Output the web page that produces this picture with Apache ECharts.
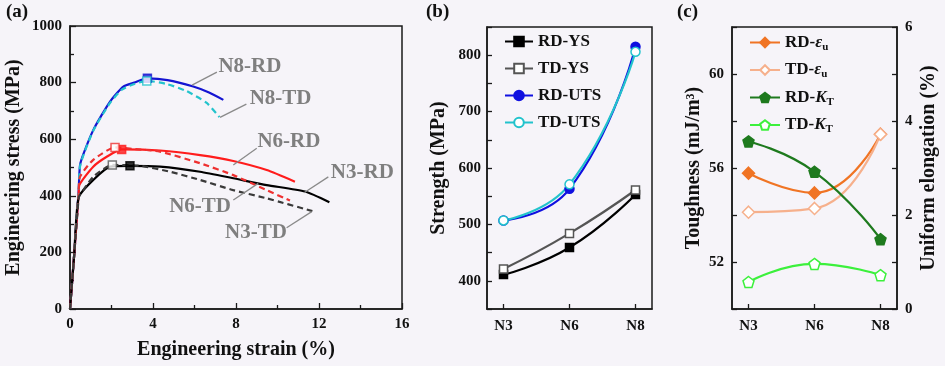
<!DOCTYPE html>
<html><head><meta charset="utf-8">
<script src="https://cdn.jsdelivr.net/npm/echarts@6/dist/echarts.min.js"></script>
<style>html,body{margin:0;padding:0;background:#f6f4f9}#c{width:945px;height:366px}</style>
</head><body><div id="c"></div>
<script>
// ---------- Panel (a): engineering stress-strain curves ----------
const strainN8RD = [0,0.2,0.42,0.5,1.12,1.93,2.57,3.1,3.73,4.7,5.94,6.7,7.39];
const stressN8RD = [0,190,420,515,632,733,786,800,815,809,786,765,739];
const strainN8TD = [0,0.2,0.42,0.5,1.12,1.93,2.5,3.1,3.7,4.66,5.62,6.59,7.2];
const stressN8TD = [0,190,420,510,630,728,775,795,806,795,770,728,678];
const strainN6RD = [0,0.2,0.42,0.45,1.12,1.77,2.49,4.34,6.27,7.87,9.48,10.84];
const stressN6RD = [0,190,410,438,503,538,564,560,544,523,491,450];
const strainN6TD = [0,0.2,0.42,0.48,1.12,2.17,3.0,4.34,6.27,7.87,9.48,10.6];
const stressN6TD = [0,190,410,467,527,571,566,556,515,473,420,383];
const strainN3RD = [0,0.2,0.42,1.12,1.93,2.89,4.34,6.27,7.87,9.48,11.33,12.5];
const stressN3RD = [0,190,395,456,503,506,503,485,462,438,415,377];
const strainN3TD = [0,0.2,0.42,0.48,1.12,2.04,3.37,4.82,6.27,7.87,9.48,11.68];
const stressN3TD = [0,190,395,403,467,509,506,485,456,420,391,346];
// UTS markers
const peakStrain = {'N8-RD':3.73,'N8-TD':3.7,'N6-RD':2.49,'N6-TD':2.17,'N3-RD':2.89,'N3-TD':2.04};
const peakStress = {'N8-RD':815,'N8-TD':806,'N6-RD':564,'N6-TD':571,'N3-RD':506,'N3-TD':509};
// curve labels with arrows (curve point -> text)
const annoNames = ['N8-RD','N8-TD','N6-RD','N3-RD','N6-TD','N3-TD'];
const annoText = [[8.67,855],[10.15,745],[10.55,591],[14.09,482],[6.27,361],[8.96,270]];
const annoFrom = [[5.88,791],[7.23,677],[7.87,509],[11.28,411],[9.07,444],[11.65,344]];
const annoTo   = [[7.08,837],[8.5,724],[9.0,568],[12.45,467],[7.87,385],[10.44,287]];

// ---------- Panel (b): strength ----------
const categories = ['N3','N6','N8'];
const rdYS  = [411,459,553];
const tdYS  = [421,484,561];
const rdUTS = [507,563,815];
const tdUTS = [507,571,806];

// ---------- Panel (c): toughness & uniform elongation ----------
const rdEu = [2.89,2.47,3.72];
const tdEu = [2.06,2.14,3.72];
const rdKT = [57.13,55.84,52.97];
const tdKT = [51.15,51.92,51.44];

const FONT = "'Liberation Serif','Times New Roman',serif";
const AX = '#1a1a1a';
const GRAY = '#7f7f7f';

function pairs(xs, ys){ return xs.map((x,i)=>[x, ys[i]]); }
function catPairs(ys){ return ys.map((y,i)=>[i, y]); }

const lab = {fontFamily:FONT, fontWeight:'bold', fontSize:15, color:'#111'};
const nameStyle = {fontFamily:FONT, fontWeight:'bold', fontSize:20, color:'#111'};

function valAxis(o){
  return Object.assign({
    type:'value',
    axisLine:{show:true, onZero:false, lineStyle:{color:AX, width:1.5}},
    axisTick:{show:true, inside:true, length:5, lineStyle:{color:AX, width:1.3}},
    splitLine:{show:false},
    axisLabel:Object.assign({margin:8, formatter: v => String(v)}, lab),
    nameTextStyle:nameStyle,
    nameLocation:'middle'
  }, o);
}

const PENT = 'path://M0,-10 L9.51,-3.09 L5.88,8.09 L-5.88,8.09 L-9.51,-3.09 Z';

function curve(name, xs, ys, color, dashed, order){
  return {
    name, type:'line', xAxisIndex:0, yAxisIndex:0, data:pairs(xs, ys),
    showSymbol:false, symbol:'none', smooth:0.2,
    lineStyle:{color, width:2.2, type: dashed ? [6,4] : 'solid'},
    z: order, silent:true
  };
}
function peak(name, color, filled){
  return {
    name: name+' UTS', type:'scatter', xAxisIndex:0, yAxisIndex:0,
    data:[[peakStrain[name], peakStress[name]]], symbol:'rect', symbolSize:8,
    itemStyle:{color: filled ? color : '#ffffff', borderColor:color, borderWidth:1.5},
    z:10, silent:true
  };
}

function catLine(name, ys, color, symbol, filled, yIdx, xIdx, size){
  return {
    name, type:'line', xAxisIndex:xIdx, yAxisIndex:yIdx, data:catPairs(ys),
    smooth:0.5, symbol, symbolSize:size, showSymbol:true,
    lineStyle:{color, width:2.2},
    itemStyle:{color: filled ? color : '#ffffff', borderColor:color, borderWidth:1.5},
    z: 5
  };
}

const series = [
  curve('N8-RD', strainN8RD, stressN8RD, '#1414d2', false, 3),
  curve('N8-TD', strainN8TD, stressN8TD, '#22c3cc', true, 4),
  curve('N6-RD', strainN6RD, stressN6RD, '#ff1c1c', false, 3),
  curve('N6-TD', strainN6TD, stressN6TD, '#ee3030', true, 4),
  curve('N3-RD', strainN3RD, stressN3RD, '#000000', false, 3),
  curve('N3-TD', strainN3TD, stressN3TD, '#3a3a3a', true, 4),
  peak('N8-RD','#1414d2',true), peak('N8-TD','#22c3cc',false),
  peak('N6-RD','#ff1c1c',true), peak('N6-TD','#ee3030',false),
  peak('N3-RD','#000000',true), peak('N3-TD','#555555',false),
  {
    name:'annotations', type:'line', xAxisIndex:0, yAxisIndex:0, data:[], silent:true,
    markLine:{
      silent:true, symbol:['none','arrow'], symbolSize:[0,8],
      lineStyle:{color:'#8a8a8a', width:1.3, type:'solid'}, label:{show:false},
      data: annoFrom.map((f,i)=>[{coord:f},{coord:annoTo[i]}])
    },
    markPoint:{
      silent:true, symbol:'circle', symbolSize:0,
      label:{show:true, position:'inside', fontFamily:FONT, fontWeight:'bold', fontSize:21, color:GRAY,
             formatter: p => p.name},
      data: annoNames.map((n,i)=>({name:n, coord:annoText[i]}))
    }
  },
  // (b)
  catLine('RD-YS', rdYS, '#000000', 'rect', true, 1, 1, 8),
  catLine('TD-YS', tdYS, '#555555', 'rect', false, 1, 1, 8),
  catLine('RD-UTS', rdUTS, '#1010e0', 'circle', true, 1, 1, 9),
  catLine('TD-UTS', tdUTS, '#22c3cc', 'circle', false, 1, 1, 9),
  // (c)
  catLine('RD-εu', rdEu, '#f07424', 'diamond', true, 3, 2, 12),
  catLine('TD-εu', tdEu, '#f6b08c', 'diamond', false, 3, 2, 12),
  catLine('RD-KT', rdKT, '#1e7a1e', PENT, true, 2, 2, 11),
  catLine('TD-KT', tdKT, '#3cf03c', PENT, false, 2, 2, 11)
];

const catX = (gi) => valAxis({
  gridIndex:gi, min:-0.25, max:2.25, interval:0.25,
  axisTick:{show:true, inside:true, length:5, lineStyle:{color:AX, width:1.3}, customValues:[0,1,2]},
  axisLabel:Object.assign({margin:10, customValues:[0,1,2],
    formatter: v => (Math.abs(v-Math.round(v))<1e-6 && categories[Math.round(v)]) ? categories[Math.round(v)] : ''}, lab)
});

const richSub = {
  n:{fontFamily:FONT, fontWeight:'bold', fontSize:17, color:'#111'},
  e:{fontFamily:FONT, fontWeight:'bold', fontStyle:'italic', fontSize:17, color:'#111'},
  s:{fontFamily:FONT, fontWeight:'bold', fontSize:11, color:'#111', padding:[9,0,0,0]}
};
function legendFmt(name){
  const m = name.match(/^(RD-|TD-)(ε|K)(u|T)$/);
  if(!m) return name;
  return '{n|'+m[1]+'}{e|'+m[2]+'}{s|'+m[3]+'}';
}

const option = {
  backgroundColor:'#f6f4f9',
  animation:false,
  textStyle:{fontFamily:FONT},
  grid:[
    {left:70, top:26, width:332, height:283, show:true, borderColor:AX, borderWidth:1.5, backgroundColor:'transparent'},
    {left:487, top:27, width:165, height:282, show:true, borderColor:AX, borderWidth:1.5, backgroundColor:'transparent'},
    {left:732, top:27, width:165, height:282, show:true, borderColor:AX, borderWidth:1.5, backgroundColor:'transparent'}
  ],
  xAxis:[
    valAxis({gridIndex:0, min:0, max:16, interval:4, name:'Engineering strain (%)', nameGap:31,
      axisTick:{show:true, inside:true, length:6, lineStyle:{color:AX, width:1.3}},
      minorTick:{show:true, splitNumber:2, length:4, lineStyle:{color:AX, width:1.3}}}),
    catX(1),
    catX(2)
  ],
  yAxis:[
    valAxis({gridIndex:0, min:0, max:1000, interval:200, name:'Engineering stress (MPa)', nameGap:46, nameRotate:90,
      axisTick:{show:true, inside:true, length:6, lineStyle:{color:AX, width:1.3}},
      minorTick:{show:true, splitNumber:2, length:4, lineStyle:{color:AX, width:1.3}}}),
    valAxis({gridIndex:1, min:350, max:850, interval:50, name:'Strength (MPa)', nameGap:38, nameRotate:90,
      axisLabel:Object.assign({margin:6, formatter: v => v%100===0 ? String(v) : ''}, lab)}),
    valAxis({gridIndex:2, min:50, max:62, interval:2, name:'Toughness (mJ/m³)', nameGap:28, nameRotate:90,
      axisLabel:Object.assign({margin:8, formatter: v => v%4===0 ? String(v) : ''}, lab)}),
    valAxis({gridIndex:2, position:'right', min:0, max:6, interval:1, name:'Uniform elongation (%)', nameGap:22, nameRotate:90,
      axisLabel:Object.assign({margin:8, formatter: v => v%2===0 ? String(v) : ''}, lab)})
  ],
  legend:[
    {data:['RD-YS','TD-YS','RD-UTS','TD-UTS'], orient:'vertical', left:499, top:28, itemWidth:28, itemHeight:12, itemGap:10,
     textStyle:{fontFamily:FONT, fontWeight:'bold', fontSize:17, color:'#111'}, selectedMode:false},
    {data:['RD-εu','TD-εu','RD-KT','TD-KT'], orient:'vertical', left:744, top:29, itemWidth:30, itemHeight:12, itemGap:9,
     formatter: legendFmt, textStyle:{fontFamily:FONT, fontWeight:'bold', fontSize:17, color:'#111', rich:richSub}, selectedMode:false}
  ],
  graphic:[
    {type:'text', left:6, top:3, style:{text:'(a)', font:"bold 19px "+FONT, fill:'#111'}},
    {type:'text', left:426, top:3, style:{text:'(b)', font:"bold 19px "+FONT, fill:'#111'}},
    {type:'text', left:677, top:3, style:{text:'(c)', font:"bold 19px "+FONT, fill:'#111'}}
  ],
  series
};

const chart = echarts.init(document.getElementById('c'), null, {renderer:'canvas'});
chart.setOption(option);
</script>
</body></html>
